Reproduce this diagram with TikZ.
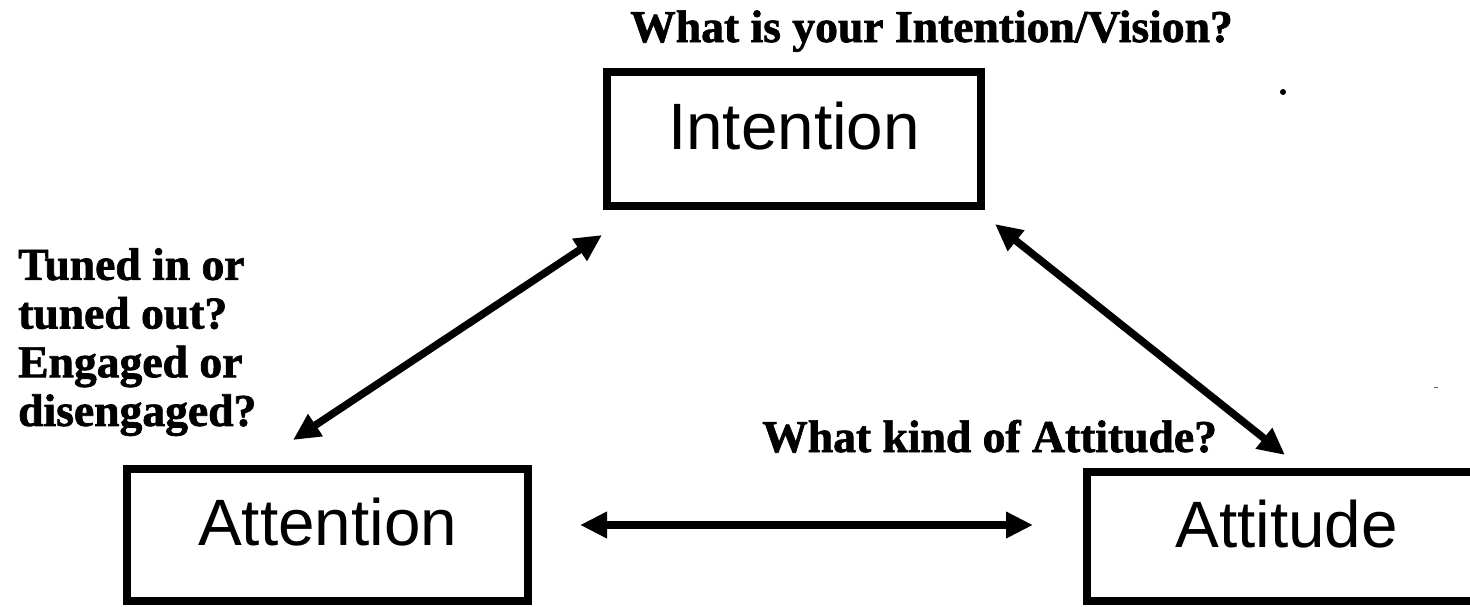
\documentclass[tikz,border=0pt]{standalone}
\usepackage{fontspec}
\setmainfont{Liberation Serif}
\newfontfamily\lblfont[BoldFeatures={FakeBold=1.5}]{Liberation Serif}
\newfontfamily\boxfont{Liberation Sans}
\usetikzlibrary{arrows.meta}
\begin{document}
\begin{tikzpicture}[x=1pt,y=-1pt,
  box/.style={draw, line width=8pt, inner sep=0pt,
    font=\boxfont\fontsize{65.6}{70}\selectfont, text height=47pt, text depth=26pt},
  lbl/.style={inner sep=0pt, font=\lblfont\fontsize{45.6}{48.7}\selectfont\bfseries},
  biarrow/.style={line width=7.5pt,
    {Triangle[length=27pt,width=25pt]}-{Triangle[length=27pt,width=25pt]}}]
\useasboundingbox (0,0) rectangle (1470,606);
% boxes
\node[box, minimum width=374pt, minimum height=134pt] (intention) at (794,139) {Intention};
\node[box, minimum width=401pt, minimum height=132pt] (attention) at (327.5,535) {Attention};
\node[box, minimum width=399pt, minimum height=129pt] (attitude) at (1286.5,536.5) {Attitude};
% labels
\node[lbl, anchor=base west] (qint) at (630,42) {What is your Intention/Vision?};
\node[lbl, anchor=base west] (qatt) at (762,452) {What kind of Attitude?};
\node[lbl, anchor=north west, align=left] (qattn) at (18,248) {Tuned in or\\tuned out?\\Engaged or\\disengaged?};
% arrow ends
\coordinate (a1s) at (293,440);
\coordinate (a1e) at (602,235);
\coordinate (a2s) at (995,224);
\coordinate (a2e) at (1285,455);
\coordinate (a3s) at (580,525);
\coordinate (a3e) at (1033,525);
\draw[biarrow] (a1s) -- (a1e);
\draw[biarrow] (a2s) -- (a2e);
\draw[biarrow] (a3s) -- (a3e);
% scan specks
\fill (1283,92) circle (3pt);
\fill[black!60] (1434,386.5) rectangle (1438,388);
\end{tikzpicture}
\end{document}
